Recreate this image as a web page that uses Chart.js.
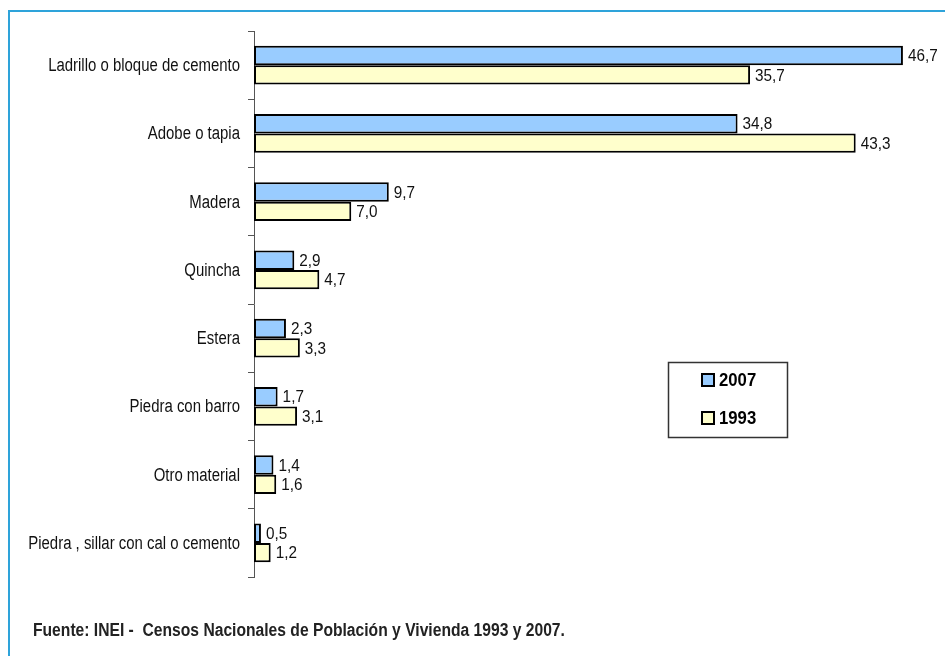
<!DOCTYPE html>
<html>
<head>
<meta charset="utf-8">
<script src="https://cdn.jsdelivr.net/npm/chart.js@4"></script>
<style>
  body { margin: 0; background: #fff; }
  #wrap { position: relative; width: 945px; height: 656px; overflow: hidden; }
  #frame { position: absolute; left: 8px; top: 10px; width: 960px; height: 700px;
           border-left: 2px solid #2ea3da; border-top: 2px solid #2ea3da; }
  #fuente { position: absolute; left: 33px; top: 620px; white-space: nowrap; transform-origin: 0 0;
            font: bold 18px "Liberation Sans", Arial, sans-serif; color: #222; }
  canvas { position: absolute; left: 0; top: 0; }
</style>
</head>
<body>
<div id="wrap">
  <div id="frame"></div>
  <canvas id="chart" width="945" height="656"></canvas>
  <div id="fuente">Fuente: INEI -&nbsp; Censos Nacionales de Población y Vivienda 1993 y 2007.</div>
</div>
<script>
/* ---------------- DATA ---------------- */
const categories = [
  "Ladrillo o bloque de cemento",
  "Adobe o tapia",
  "Madera",
  "Quincha",
  "Estera",
  "Piedra con barro",
  "Otro material",
  "Piedra , sillar con cal o cemento"
];
const values2007 = [46.7, 34.8, 9.7, 2.9, 2.3, 1.7, 1.4, 0.5];
const values1993 = [35.7, 43.3, 7.0, 4.7, 3.3, 3.1, 1.6, 1.2];
const seriesLabels = ["2007", "1993"];

const FONT = '"Liberation Sans", Arial, sans-serif';

/* narrow look: squeeze the source line to the reference width */
const fuente = document.getElementById("fuente");
fuente.style.transform = "scaleX(" + (532 / fuente.offsetWidth) + ")";

/* ---------------- PLUGINS ---------------- */
// category names, drawn narrow like the original Arial Narrow
const narrowTicks = {
  id: "narrowTicks",
  afterDraw(chart) {
    const ctx = chart.ctx;
    const scale = chart.scales.y;
    ctx.save();
    ctx.font = "18px " + FONT;
    ctx.fillStyle = "#111";
    ctx.textAlign = "right";
    ctx.textBaseline = "middle";
    categories.forEach((c, i) => {
      ctx.save();
      ctx.translate(240, scale.getPixelForTick(i) + 1);
      ctx.scale(0.83, 1);
      ctx.fillText(c, 0, 0);
      ctx.restore();
    });
    ctx.restore();
  }
};

const valueLabels = {
  id: "valueLabels",
  afterDatasetsDraw(chart) {
    const ctx = chart.ctx;
    ctx.save();
    ctx.font = "17px " + FONT;
    ctx.fillStyle = "#111";
    ctx.textBaseline = "middle";
    ctx.textAlign = "left";
    chart.data.datasets.forEach((ds, i) => {
      chart.getDatasetMeta(i).data.forEach((bar, j) => {
        ctx.save();
        ctx.translate(bar.x + 5, bar.y + 1);
        ctx.scale(0.9, 1);
        ctx.fillText(ds.data[j].toFixed(1).replace(".", ","), 0, 0);
        ctx.restore();
      });
    });
    ctx.restore();
  }
};

const boxLegend = {
  id: "boxLegend",
  afterDraw(chart) {
    const ctx = chart.ctx;
    ctx.save();
    ctx.strokeStyle = "#333";
    ctx.lineWidth = 1.5;
    ctx.strokeRect(668.5, 362.5, 119, 75);
    ctx.font = "bold 19px " + FONT;
    ctx.textBaseline = "middle";
    chart.data.datasets.forEach((ds, i) => {
      const y = 380 + i * 38;
      ctx.fillStyle = ds.backgroundColor;
      ctx.fillRect(702, y - 6, 12, 12);
      ctx.lineWidth = 2;
      ctx.strokeStyle = "#000";
      ctx.strokeRect(702, y - 6, 12, 12);
      ctx.fillStyle = "#000";
      ctx.save();
      ctx.translate(719, y + 1);
      ctx.scale(0.88, 1);
      ctx.fillText(ds.label, 0, 0);
      ctx.restore();
    });
    ctx.restore();
  }
};

/* ---------------- CHART ---------------- */
new Chart(document.getElementById("chart"), {
  type: "bar",
  data: {
    labels: categories,
    datasets: [
      { label: seriesLabels[0], data: values2007, backgroundColor: "#99ccff" },
      { label: seriesLabels[1], data: values1993, backgroundColor: "#ffffcc" }
    ].map(d => Object.assign(d, {
      borderColor: "#000",
      borderWidth: 2,
      borderSkipped: false,
      categoryPercentage: 0.57,
      barPercentage: 1
    }))
  },
  options: {
    indexAxis: "y",
    responsive: false,
    animation: false,
    layout: { padding: { top: 31, bottom: 79, right: 24, left: 0 } },
    plugins: { legend: { display: false }, tooltip: { enabled: false } },
    scales: {
      x: { display: false, min: 0, max: 48 },
      y: {
        afterFit(scale) { scale.width = 254; },
        grid: { drawOnChartArea: false, tickLength: 6, color: "#555", offset: true },
        border: { color: "#555", width: 1 },
        ticks: { display: false }
      }
    }
  },
  plugins: [valueLabels, boxLegend, narrowTicks]
});
</script>
</body>
</html>
